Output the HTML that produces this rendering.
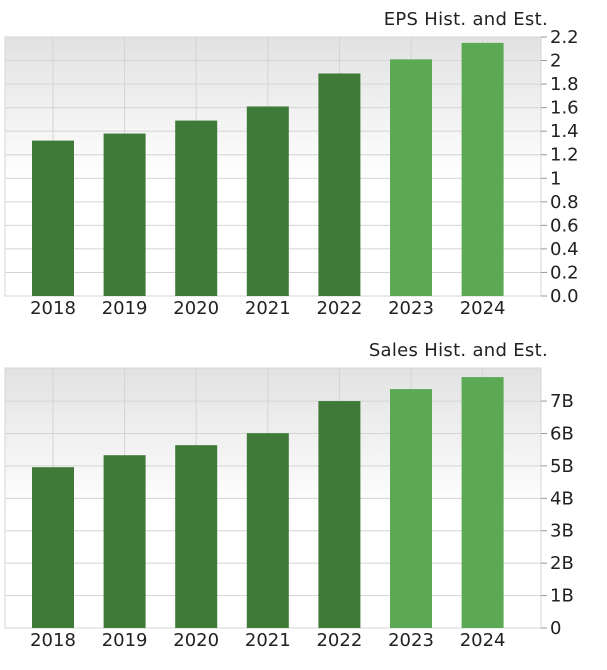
<!DOCTYPE html>
<html><head><meta charset="utf-8"><style>
body{margin:0;background:#fff;width:607px;height:670px;overflow:hidden}
svg{display:block;font-family:"DejaVu Sans","Liberation Sans",sans-serif}
</style></head><body>
<svg width="607" height="670">
<defs>
<linearGradient id="bg" x1="0" y1="0" x2="0" y2="1">
<stop offset="0" stop-color="#e2e2e2"/><stop offset="0.55" stop-color="#ffffff"/><stop offset="1" stop-color="#ffffff"/>
</linearGradient>
</defs>
<g id="c1"></g><g id="c2"></g>
</svg>
<script>
const years = ["2018","2019","2020","2021","2022","2023","2024"];
const epsValues = [1.32,1.38,1.49,1.61,1.89,2.01,2.15];
const epsTicks = [0,0.2,0.4,0.6,0.8,1,1.2,1.4,1.6,1.8,2,2.2];
const epsTickLabels = ["0.0","0.2","0.4","0.6","0.8","1","1.2","1.4","1.6","1.8","2","2.2"];
const salesValues = [4.96,5.33,5.64,6.01,7.0,7.37,7.74];
const salesTicks = [0,1,2,3,4,5,6,7];
const salesTickLabels = ["0","1B","2B","3B","4B","5B","6B","7B"];
const isEstimate = [false,false,false,false,false,true,true];
const NS="http://www.w3.org/2000/svg";
function mk(tag,attrs,parent){const e=document.createElementNS(NS,tag);for(const k in attrs)e.setAttribute(k,attrs[k]);parent.appendChild(e);return e;}
function draw(g,title,vals,ticks,labels,top,bottom,vmax,prefix){
  const L=5,R=541;
  const y=v=>bottom-(v/vmax)*(bottom-top);
  const x=i=>53+i*71.6;
  const t=mk('text',{x:548,y:top-12,'text-anchor':'end','font-size':18,'letter-spacing':'0.3',fill:'#222'},g);t.textContent=title;
  
  
  const bg=mk('rect',{x:L,y:top,width:R-L,height:bottom-top,fill:'url(#bg)',stroke:'#d4d4d4'},g);
  
  
  ticks.forEach((v,k)=>{
    mk('line',{x1:L,x2:R,y1:y(v),y2:y(v),stroke:'#d4d4d4'},g);
    mk('line',{x1:R,x2:R+6,y1:y(v),y2:y(v),stroke:'#999'},g);
    const tl=mk('text',{x:550,y:y(v)+6,'font-size':18,fill:'#222'},g);tl.textContent=labels[k];
    
    
  });
  years.forEach((yr,i)=>mk('line',{x1:x(i),x2:x(i),y1:top,y2:bottom,stroke:'#d4d4d4'},g));
  vals.forEach((v,i)=>{
    const b=mk('rect',{x:x(i)-21,y:y(v),width:42,height:bottom-y(v),fill:isEstimate[i]?'#5ba955':'#3f7a39'},g);
    
    
    const xl=mk('text',{x:x(i),y:bottom+18,'text-anchor':'middle','font-size':18,fill:'#222'},g);xl.textContent=years[i];
    
    
  });
}
draw(document.getElementById('c1'),"EPS Hist. and Est.",epsValues,epsTicks,epsTickLabels,37,296,2.2,'eps');
draw(document.getElementById('c2'),"Sales Hist. and Est.",salesValues,salesTicks,salesTickLabels,368,628,8.02,'sales');
</script>
</body></html>
